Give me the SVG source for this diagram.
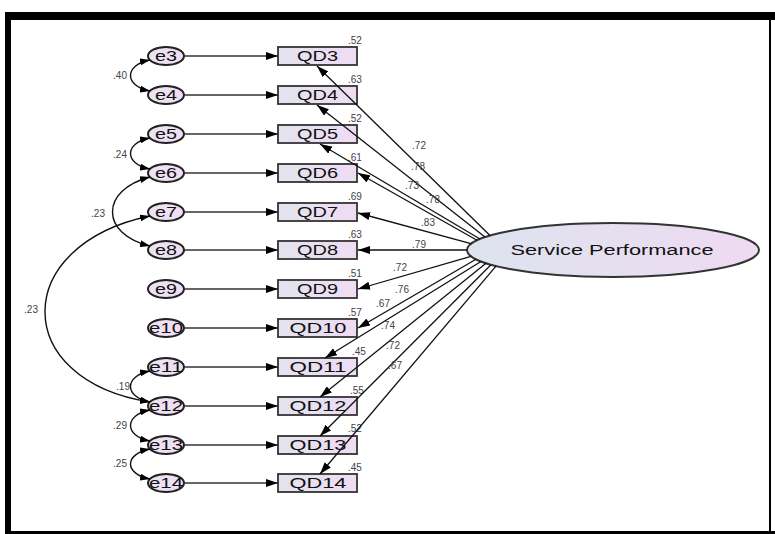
<svg xmlns="http://www.w3.org/2000/svg" width="775" height="534" viewBox="0 0 775 534">
<defs>
<linearGradient id="gbox" x1="0" y1="0" x2="1" y2="0"><stop offset="0" stop-color="#e3e3ef"/><stop offset="1" stop-color="#efdcf3"/></linearGradient>
<linearGradient id="gerr" x1="0" y1="0" x2="1" y2="0"><stop offset="0" stop-color="#ebe4f2"/><stop offset="1" stop-color="#f1dcf4"/></linearGradient>
<linearGradient id="gsp" x1="0" y1="0" x2="1" y2="0"><stop offset="0" stop-color="#dde4ee"/><stop offset="1" stop-color="#efdaf2"/></linearGradient>
<marker id="ah" viewBox="0 0 12 8" refX="12" refY="4" markerWidth="12" markerHeight="8" markerUnits="userSpaceOnUse" orient="auto-start-reverse"><path d="M0,0 L12,4 L0,8 z" fill="#000"/></marker>
<marker id="ahs" viewBox="0 0 10 7" refX="10" refY="3.5" markerWidth="10" markerHeight="7" markerUnits="userSpaceOnUse" orient="auto-start-reverse"><path d="M0,0 L10,3.5 L0,7 z" fill="#000"/></marker>
</defs>
<style>
.err{fill:url(#gerr);stroke:#222;stroke-width:2}
.box{fill:url(#gbox);stroke:#333;stroke-width:1.8}
.sp{fill:url(#gsp);stroke:#333;stroke-width:2}
text{font-family:"Liberation Sans",Arial,sans-serif}
.lbl{font-size:14px;fill:#111;text-anchor:middle}
.num{font-size:10px;fill:#444}
.numm{font-size:10px;fill:#444;text-anchor:middle}
.nume{font-size:10px;fill:#444;text-anchor:end}
.h{stroke:#333;stroke-width:1.6;fill:none;marker-end:url(#ah)}
.ld{stroke:#111;stroke-width:1.3;fill:none;marker-end:url(#ah)}
.cov{stroke:#111;stroke-width:1.4;fill:none;marker-start:url(#ahs);marker-end:url(#ahs)}
</style>
<rect width="775" height="534" fill="#fff"/>
<g id="frame" fill="#000">
<rect x="5" y="12" width="770" height="8"/>
<rect x="5" y="12" width="6" height="522"/>
<rect x="5" y="531" width="770" height="3"/>
<rect x="769" y="12" width="2" height="522"/>
</g>
<g id="e3"><ellipse class="err" cx="166" cy="56" rx="18" ry="9"/><text class="lbl" x="166" y="61" textLength="22" lengthAdjust="spacingAndGlyphs">e3</text></g>
<g id="e4"><ellipse class="err" cx="166" cy="95" rx="18" ry="9"/><text class="lbl" x="166" y="100" textLength="22" lengthAdjust="spacingAndGlyphs">e4</text></g>
<g id="e5"><ellipse class="err" cx="166" cy="134" rx="18" ry="9"/><text class="lbl" x="166" y="139" textLength="22" lengthAdjust="spacingAndGlyphs">e5</text></g>
<g id="e6"><ellipse class="err" cx="166" cy="173" rx="18" ry="9"/><text class="lbl" x="166" y="178" textLength="22" lengthAdjust="spacingAndGlyphs">e6</text></g>
<g id="e7"><ellipse class="err" cx="166" cy="212" rx="18" ry="9"/><text class="lbl" x="166" y="217" textLength="22" lengthAdjust="spacingAndGlyphs">e7</text></g>
<g id="e8"><ellipse class="err" cx="166" cy="250" rx="18" ry="9"/><text class="lbl" x="166" y="255" textLength="22" lengthAdjust="spacingAndGlyphs">e8</text></g>
<g id="e9"><ellipse class="err" cx="166" cy="289" rx="18" ry="9"/><text class="lbl" x="166" y="294" textLength="22" lengthAdjust="spacingAndGlyphs">e9</text></g>
<g id="e10"><ellipse class="err" cx="166" cy="328" rx="18" ry="9"/><text class="lbl" x="166" y="333" textLength="34" lengthAdjust="spacingAndGlyphs">e10</text></g>
<g id="e11"><ellipse class="err" cx="166" cy="367" rx="18" ry="9"/><text class="lbl" x="166" y="372" textLength="34" lengthAdjust="spacingAndGlyphs">e11</text></g>
<g id="e12"><ellipse class="err" cx="166" cy="406" rx="18" ry="9"/><text class="lbl" x="166" y="411" textLength="34" lengthAdjust="spacingAndGlyphs">e12</text></g>
<g id="e13"><ellipse class="err" cx="166" cy="445" rx="18" ry="9"/><text class="lbl" x="166" y="450" textLength="34" lengthAdjust="spacingAndGlyphs">e13</text></g>
<g id="e14"><ellipse class="err" cx="166" cy="483" rx="18" ry="9"/><text class="lbl" x="166" y="488" textLength="34" lengthAdjust="spacingAndGlyphs">e14</text></g>
<g id="QD3"><rect class="box" x="278" y="47" width="79" height="18"/><text class="lbl" x="317.5" y="61" textLength="41" lengthAdjust="spacingAndGlyphs">QD3</text><text class="num" x="348" y="44">.52</text></g>
<g id="QD4"><rect class="box" x="278" y="86" width="79" height="18"/><text class="lbl" x="317.5" y="100" textLength="41" lengthAdjust="spacingAndGlyphs">QD4</text><text class="num" x="348" y="83">.63</text></g>
<g id="QD5"><rect class="box" x="278" y="125" width="79" height="18"/><text class="lbl" x="317.5" y="139" textLength="41" lengthAdjust="spacingAndGlyphs">QD5</text><text class="num" x="348" y="122">.52</text></g>
<g id="QD6"><rect class="box" x="278" y="164" width="79" height="18"/><text class="lbl" x="317.5" y="178" textLength="41" lengthAdjust="spacingAndGlyphs">QD6</text><text class="num" x="348" y="161">.61</text></g>
<g id="QD7"><rect class="box" x="278" y="203" width="79" height="18"/><text class="lbl" x="317.5" y="217" textLength="41" lengthAdjust="spacingAndGlyphs">QD7</text><text class="num" x="348" y="200">.69</text></g>
<g id="QD8"><rect class="box" x="278" y="241" width="79" height="18"/><text class="lbl" x="317.5" y="255" textLength="41" lengthAdjust="spacingAndGlyphs">QD8</text><text class="num" x="348" y="238">.63</text></g>
<g id="QD9"><rect class="box" x="278" y="280" width="79" height="18"/><text class="lbl" x="317.5" y="294" textLength="41" lengthAdjust="spacingAndGlyphs">QD9</text><text class="num" x="348" y="277">.51</text></g>
<g id="QD10"><rect class="box" x="278" y="319" width="79" height="18"/><text class="lbl" x="318" y="333" textLength="57" lengthAdjust="spacingAndGlyphs">QD10</text><text class="num" x="348" y="316">.57</text></g>
<g id="QD11"><rect class="box" x="278" y="358" width="79" height="18"/><text class="lbl" x="318" y="372" textLength="57" lengthAdjust="spacingAndGlyphs">QD11</text><text class="num" x="352" y="355">.45</text></g>
<g id="QD12"><rect class="box" x="278" y="397" width="79" height="18"/><text class="lbl" x="318" y="411" textLength="57" lengthAdjust="spacingAndGlyphs">QD12</text><text class="num" x="350" y="394">.55</text></g>
<g id="QD13"><rect class="box" x="278" y="436" width="79" height="18"/><text class="lbl" x="318" y="450" textLength="57" lengthAdjust="spacingAndGlyphs">QD13</text><text class="num" x="348" y="432">.52</text></g>
<g id="QD14"><rect class="box" x="278" y="474" width="79" height="18"/><text class="lbl" x="318" y="488" textLength="57" lengthAdjust="spacingAndGlyphs">QD14</text><text class="num" x="348" y="471">.45</text></g>
<g id="ServicePerformance"><ellipse class="sp" cx="613" cy="250" rx="146" ry="27"/><text class="lbl" x="612" y="255" textLength="203" lengthAdjust="spacingAndGlyphs">Service Performance</text></g>
<g id="connectors">
<line class="h" x1="184" y1="56" x2="278" y2="56"/>
<line class="h" x1="184" y1="95" x2="278" y2="95"/>
<line class="h" x1="184" y1="134" x2="278" y2="134"/>
<line class="h" x1="184" y1="173" x2="278" y2="173"/>
<line class="h" x1="184" y1="212" x2="278" y2="212"/>
<line class="h" x1="184" y1="250" x2="278" y2="250"/>
<line class="h" x1="184" y1="289" x2="278" y2="289"/>
<line class="h" x1="184" y1="328" x2="278" y2="328"/>
<line class="h" x1="184" y1="367" x2="278" y2="367"/>
<line class="h" x1="184" y1="406" x2="278" y2="406"/>
<line class="h" x1="184" y1="445" x2="278" y2="445"/>
<line class="h" x1="184" y1="483" x2="278" y2="483"/>
<line class="ld" x1="490" y1="235.5" x2="317" y2="66"/>
<line class="ld" x1="485" y1="237" x2="317" y2="105"/>
<line class="ld" x1="480" y1="239" x2="320" y2="144"/>
<line class="ld" x1="477" y1="240.2" x2="358" y2="173"/>
<line class="ld" x1="471" y1="243.7" x2="358" y2="213"/>
<line class="ld" x1="467" y1="250" x2="358" y2="250"/>
<line class="ld" x1="471" y1="256.3" x2="358" y2="289"/>
<line class="ld" x1="476" y1="259.3" x2="358" y2="328"/>
<line class="ld" x1="481" y1="261.5" x2="325" y2="358"/>
<line class="ld" x1="486" y1="263.3" x2="320" y2="397"/>
<line class="ld" x1="491" y1="264.8" x2="320" y2="436"/>
<line class="ld" x1="496" y1="266.2" x2="320" y2="474"/>
<path class="cov" d="M150,60 C124,65 124,86 150,91"/>
<path class="cov" d="M150,138 C124,143 124,164 150,169"/>
<path class="cov" d="M150,177 C100,190 100,234 150,246"/>
<path class="cov" d="M150,216 C10,245 10,380 150,402"/>
<path class="cov" d="M150,371 C124,376 124,397 150,402"/>
<path class="cov" d="M150,410 C124,415 124,436 150,441"/>
<path class="cov" d="M150,449 C124,454 124,474 150,479"/>
<text class="nume" x="127" y="79">.40</text>
<text class="nume" x="127" y="158">.24</text>
<text class="nume" x="105" y="217">.23</text>
<text class="nume" x="38" y="313">.23</text>
<text class="nume" x="130" y="390">.19</text>
<text class="nume" x="127" y="429">.29</text>
<text class="nume" x="127" y="467">.25</text>
<text class="numm" x="419" y="149">.72</text>
<text class="numm" x="418" y="170">.78</text>
<text class="numm" x="412" y="189">.73</text>
<text class="numm" x="433" y="203">.78</text>
<text class="numm" x="428" y="226">.83</text>
<text class="numm" x="419" y="248">.79</text>
<text class="numm" x="400" y="271">.72</text>
<text class="numm" x="402" y="293">.76</text>
<text class="numm" x="383" y="307">.67</text>
<text class="numm" x="388" y="329">.74</text>
<text class="numm" x="393" y="349">.72</text>
<text class="numm" x="395" y="369">.67</text>
</g>
</svg>
